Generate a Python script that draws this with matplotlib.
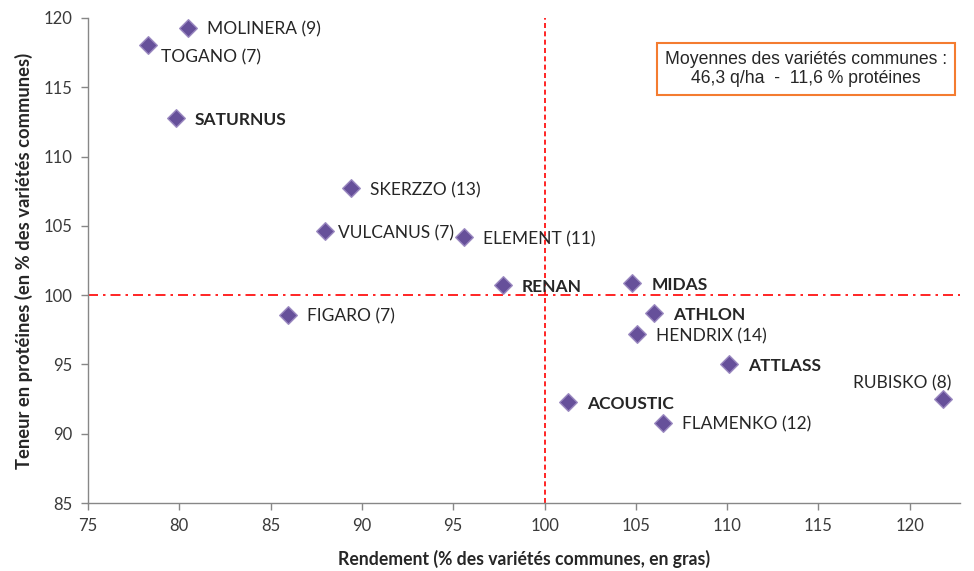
import matplotlib
matplotlib.use("Agg")
import matplotlib.pyplot as plt

names = ["MOLINERA (9)", "TOGANO (7)", "SATURNUS", "SKERZZO (13)", "VULCANUS (7)",
         "ELEMENT (11)", "RENAN", "MIDAS", "ATHLON", "HENDRIX (14)", "FIGARO (7)",
         "ATTLASS", "RUBISKO (8)", "ACOUSTIC", "FLAMENKO (12)"]
rendement = [80.5, 78.3, 79.8, 89.4, 88.0, 95.6, 97.7, 104.8, 106.0, 105.05, 85.95,
             110.1, 121.8, 101.3, 106.5]
proteines = [119.3, 118.05, 112.8, 107.7, 104.6, 104.2, 100.7, 100.9, 98.7, 97.2, 98.6,
             95.0, 92.5, 92.3, 90.8]
bold = [False, False, True, False, False, False, True, True, True, False, False,
        True, False, True, False]

xticks = [75, 80, 85, 90, 95, 100, 105, 110, 115, 120]
yticks = [85, 90, 95, 100, 105, 110, 115, 120]

fig = plt.figure(figsize=(9.74, 5.71), dpi=100)
ax = fig.add_axes([88/974, 1-503/571, (960-88)/974, (503-18)/571])

ax.set_xlim(75, 122.75)
ax.set_ylim(85, 120)

ax.axvline(100, color="#FF0000", linestyle=(0, (3, 2)), linewidth=1.2, zorder=1)
ax.axhline(100, color="#FF0000", linestyle=(0, (6, 3, 1.5, 3)), linewidth=1.2, zorder=1)

ax.scatter(rendement, proteines, marker="D", s=80, color="#66509A",
           edgecolors="#9A88C0", linewidths=1.0, zorder=3)

lab_font = "Lato"
for n, x, y, b in zip(names, rendement, proteines, bold):
    dx, dy, ha = 19, -2, "left"
    if n.startswith("TOGANO"):
        dx, dy = 13, -12
    elif n.startswith("VULCANUS"):
        dx = 13
    elif n.startswith("RUBISKO"):
        dx, dy, ha = 9, 16, "right"
    ax.annotate(n, (x, y), xytext=(dx, dy), textcoords="offset pixels",
                ha=ha, va="center", fontsize=12.5, family=lab_font,
                fontweight="bold" if b else "normal", color="#262626", zorder=4)

ax.set_xticks(xticks)
ax.set_yticks(yticks)
ax.tick_params(axis="both", colors="#878787", length=5, width=1, direction="out",
               labelcolor="#3a3a3a", labelsize=12)
for lbl in ax.get_xticklabels() + ax.get_yticklabels():
    lbl.set_family(lab_font)
ax.tick_params(axis="x", pad=6)
ax.tick_params(axis="y", pad=6)

for s in ["top", "right"]:
    ax.spines[s].set_visible(False)
for s in ["left", "bottom"]:
    ax.spines[s].set_color("#878787")
    ax.spines[s].set_linewidth(1)

ax.set_xlabel("Rendement (% des variétés communes, en gras)", fontsize=12.7,
              fontweight="bold", family=lab_font, color="#262626", labelpad=11)
ax.set_ylabel("Teneur en protéines (en % des variétés communes)", fontsize=13.2,
              fontweight="bold", family=lab_font, color="#262626", labelpad=8)

fig.text(806/974, 1-69/571, "Moyennes des variétés communes :\n46,3 q/ha  -  11,6 % protéines",
         ha="center", va="center", fontsize=12.7, family="Liberation Sans",
         color="#262626", linespacing=1.1,
         bbox=dict(boxstyle="square,pad=0.45", facecolor="white",
                   edgecolor="#F47C30", linewidth=1.5))

fig.savefig("out.png", dpi=100)
